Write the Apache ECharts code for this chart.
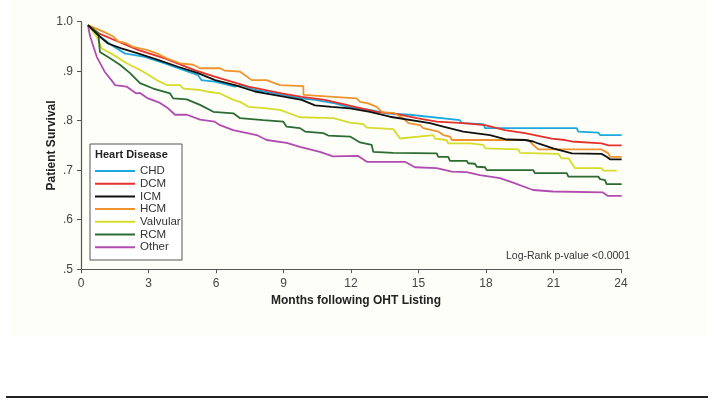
<!DOCTYPE html>
<html>
<head>
<meta charset="utf-8">
<script src="https://cdn.jsdelivr.net/npm/echarts@6/dist/echarts.min.js"></script>
<style>
    html, body { margin: 0; padding: 0; background: #fff; }
    #chart { width: 714px; height: 406px; }
</style>
</head>
<body>
<div id="chart"></div>
<script>
// Kaplan-Meier survival, [month, survival]
const seriesNames = ['CHD', 'DCM', 'ICM', 'HCM', 'Valvular', 'RCM', 'Other']
const seriesColors = ['#1ba9dd', '#e5312e', '#111111', '#f0922e', '#d5dc2c', '#2c6b34', '#b24bb0']
const xTicks = [0, 3, 6, 9, 12, 15, 18, 21, 24]
const yTicks = [0.5, 0.6, 0.7, 0.8, 0.9, 1.0]

const chd = [
    [0.31, 0.993], [0.76, 0.973], [1.35, 0.953], [1.94, 0.936], [2.83, 0.929], [3.72, 0.916],
    [5.2, 0.892], [5.35, 0.882], [5.94, 0.879], [6.84, 0.869], [7.14, 0.872], [7.73, 0.862],
    [8.62, 0.855], [9.81, 0.845], [10.4, 0.842], [11.29, 0.835], [11.88, 0.828], [12.84, 0.822],
    [13.59, 0.815], [14.62, 0.812], [16.84, 0.801], [16.92, 0.795], [17.88, 0.793], [17.96, 0.785],
    [22.03, 0.785], [22.1, 0.778], [22.99, 0.776], [23.07, 0.771], [24.03, 0.771]
]
const dcm = [
    [0.31, 0.993], [0.76, 0.977], [1.64, 0.96], [2.53, 0.943], [3.72, 0.926], [5.05, 0.902],
    [5.94, 0.889], [7.44, 0.869], [8.92, 0.855], [9.81, 0.848], [10.84, 0.842], [12.18, 0.828],
    [13.14, 0.818], [13.88, 0.815], [14.92, 0.805], [15.81, 0.798], [16.99, 0.795], [17.96, 0.791],
    [18.84, 0.781], [19.73, 0.775], [20.92, 0.764], [21.51, 0.761], [21.81, 0.758], [23.14, 0.754],
    [23.44, 0.75], [24.03, 0.75]
]
const icm = [
    [0.31, 0.993], [0.76, 0.973], [1.2, 0.956], [1.79, 0.946], [2.53, 0.936], [3.42, 0.923],
    [4.31, 0.909], [5.2, 0.896], [5.96, 0.882], [6.84, 0.872], [7.73, 0.859], [8.18, 0.855],
    [9.07, 0.848], [9.81, 0.842], [10.4, 0.831], [11.14, 0.828], [11.96, 0.825], [12.84, 0.818],
    [13.73, 0.808], [15.51, 0.795], [16.1, 0.788], [16.99, 0.778], [18.18, 0.771], [18.92, 0.762],
    [19.73, 0.761], [20.1, 0.758], [20.32, 0.754], [20.98, 0.744], [21.82, 0.734], [23.14, 0.733],
    [23.36, 0.727], [23.51, 0.722], [24.03, 0.722]
]
const hcm = [
    [0.31, 0.993], [0.99, 0.98], [1.44, 0.97], [1.66, 0.96], [2.03, 0.956], [2.32, 0.949],
    [2.92, 0.943], [3.36, 0.936], [3.81, 0.926], [4.4, 0.916], [4.99, 0.913], [5.29, 0.906],
    [6.18, 0.906], [6.4, 0.901], [7.07, 0.899], [7.59, 0.882], [8.25, 0.882], [8.84, 0.872],
    [9.88, 0.87], [9.89, 0.852], [11.21, 0.848], [12.25, 0.845], [12.4, 0.838], [12.77, 0.835],
    [13.14, 0.828], [13.4, 0.817], [13.88, 0.816], [14.32, 0.805], [14.55, 0.795], [15.07, 0.791],
    [15.21, 0.785], [15.88, 0.778], [16.1, 0.771], [16.4, 0.768], [16.48, 0.761], [19.88, 0.761],
    [20.03, 0.754], [20.32, 0.742], [23.14, 0.742], [23.44, 0.734], [23.51, 0.727], [24.03, 0.727]
]
const valvular = [
    [0.31, 0.993], [0.7, 0.97], [0.92, 0.946], [1.44, 0.933], [2.03, 0.916], [2.77, 0.899],
    [3.36, 0.882], [3.81, 0.872], [4.4, 0.872], [4.55, 0.865], [5.29, 0.862], [5.59, 0.859],
    [6.18, 0.855], [6.77, 0.842], [7.07, 0.838], [7.44, 0.828], [8.25, 0.825], [8.84, 0.822],
    [9.73, 0.807], [11.21, 0.805], [11.96, 0.796], [12.55, 0.793], [12.7, 0.786], [13.88, 0.783],
    [14.18, 0.764], [15.66, 0.771], [15.73, 0.764], [16.25, 0.761], [16.32, 0.754], [17.29, 0.754],
    [17.88, 0.751], [17.96, 0.744], [19.44, 0.742], [19.51, 0.735], [21.21, 0.733], [21.36, 0.724],
    [21.66, 0.724], [21.81, 0.714], [21.96, 0.704], [23.14, 0.704], [23.21, 0.699], [23.81, 0.699]
]
const rcm = [
    [0.31, 0.993], [0.77, 0.977], [0.84, 0.939], [1.29, 0.926], [1.73, 0.913], [2.18, 0.896],
    [2.62, 0.876], [3.21, 0.865], [3.96, 0.855], [4.1, 0.845], [4.7, 0.843], [5.29, 0.832],
    [5.88, 0.818], [6.77, 0.815], [7.07, 0.805], [8.1, 0.801], [8.99, 0.798], [9.14, 0.788],
    [9.73, 0.785], [9.96, 0.778], [10.77, 0.775], [10.99, 0.77], [11.96, 0.768], [12.4, 0.756],
    [12.92, 0.751], [12.99, 0.737], [13.88, 0.735], [15.81, 0.734], [15.88, 0.727], [16.32, 0.727],
    [16.4, 0.719], [17.14, 0.719], [17.21, 0.714], [17.51, 0.713], [17.59, 0.707], [17.96, 0.706],
    [18.03, 0.7], [20.1, 0.7], [20.18, 0.694], [21.59, 0.694], [21.66, 0.687], [22.99, 0.687],
    [23.07, 0.682], [23.29, 0.68], [23.36, 0.672], [24.03, 0.672]
]
const other = [
    [0.31, 0.993], [0.39, 0.973], [0.53, 0.953], [0.7, 0.929], [0.76, 0.926], [1.05, 0.899],
    [1.35, 0.882], [1.51, 0.872], [2.02, 0.869], [2.46, 0.855], [2.62, 0.856], [2.98, 0.845],
    [3.51, 0.836], [3.87, 0.825], [4.18, 0.812], [4.71, 0.812], [5.29, 0.802], [5.94, 0.798],
    [6.18, 0.791], [6.76, 0.781], [7.81, 0.771], [8.25, 0.761], [9.14, 0.755], [9.73, 0.747],
    [10.62, 0.737], [11.2, 0.728], [12.3, 0.729], [12.7, 0.717], [14.4, 0.717], [14.84, 0.706],
    [15.81, 0.704], [16.48, 0.697], [17.14, 0.696], [17.73, 0.69], [18.62, 0.684], [19.2, 0.675],
    [20.09, 0.66], [20.98, 0.657], [23.2, 0.655], [23.42, 0.648], [24.03, 0.648]
]
const seriesData = [chd, dcm, icm, hcm, valvular, rcm, other]

const font = '"Liberation Sans", Arial, sans-serif'
const chart = echarts.init(document.getElementById('chart'))

chart.setOption({
    animation: false,
    backgroundColor: '#ffffff',
    textStyle: { fontFamily: font },
    grid: {
        left: 81,
        top: 21.7,
        width: 540,
        height: 247.5,
        containLabel: false
    },
    xAxis: {
        type: 'value',
        min: xTicks[0],
        max: xTicks[xTicks.length - 1],
        interval: 3,
        name: 'Months following OHT Listing',
        nameLocation: 'middle',
        nameGap: 25,
        nameTextStyle: { fontSize: 12, fontWeight: 'bold', color: '#222', fontFamily: font, padding: [0, 0, 0, 10] },
        axisLine: { lineStyle: { color: '#555', width: 1.2 } },
        axisTick: { show: true, length: 4, lineStyle: { color: '#555' } },
        axisLabel: { fontSize: 12, color: '#444', margin: 8, fontFamily: font },
        splitLine: { show: false }
    },
    yAxis: {
        type: 'value',
        min: yTicks[0],
        max: yTicks[yTicks.length - 1],
        interval: 0.1,
        name: 'Patient Survival',
        nameLocation: 'middle',
        nameGap: 23,
        nameMoveOverlap: false,
        nameTextStyle: { fontSize: 12, fontWeight: 'bold', color: '#222', fontFamily: font },
        axisLine: { show: true, lineStyle: { color: '#555', width: 1.2 } },
        axisTick: { show: true, length: 4, lineStyle: { color: '#555' } },
        axisLabel: {
            fontSize: 12,
            color: '#444',
            margin: 8,
            fontFamily: font,
            formatter: v => (Math.abs(v - 1) < 1e-6 ? '1.0' : '.' + Math.round(v * 10))
        },
        splitLine: { show: false }
    },
    legend: {
        orient: 'vertical',
        left: 95,
        top: 165,
        z: 10,
        itemWidth: 40,
        itemHeight: 2,
        itemGap: 0.7,
        icon: 'rect',
        data: seriesNames,
        textStyle: { fontSize: 11.5, color: '#333', fontFamily: font, padding: [0, 0, 0, 0] },
        padding: 0
    },
    graphic: [
        {
            type: 'rect',
            z: -10,
            silent: true,
            shape: { x: 10, y: 0, width: 696, height: 336 },
            style: { fill: '#fefef8' }
        },
        {
            type: 'rect',
            silent: true,
            z: 1,
            shape: { x: 90, y: 144, width: 92, height: 116 },
            style: { fill: '#ffffff', stroke: '#555', lineWidth: 1 }
        },
        {
            type: 'text',
            z: 6,
            left: 95,
            top: 149,
            style: { text: 'Heart Disease', font: 'bold 11px ' + font, fill: '#222' }
        },
        {
            type: 'text',
            z: 6,
            right: 84,
            top: 251,
            style: { text: 'Log-Rank p-value <0.0001', font: '10.5px ' + font, fill: '#333' }
        },
        {
            type: 'rect',
            silent: true,
            shape: { x: 6, y: 396, width: 702, height: 2 },
            style: { fill: '#222' }
        }
    ],
    series: seriesNames.map((name, i) => ({
        name: name,
        type: 'line',
        data: seriesData[i],
        showSymbol: false,
        symbol: 'none',
        color: seriesColors[i],
        lineStyle: { color: seriesColors[i], width: 1.8 },
        z: 2 + (i === 2 ? 1 : 0)
    }))
})
</script>
</body>
</html>
